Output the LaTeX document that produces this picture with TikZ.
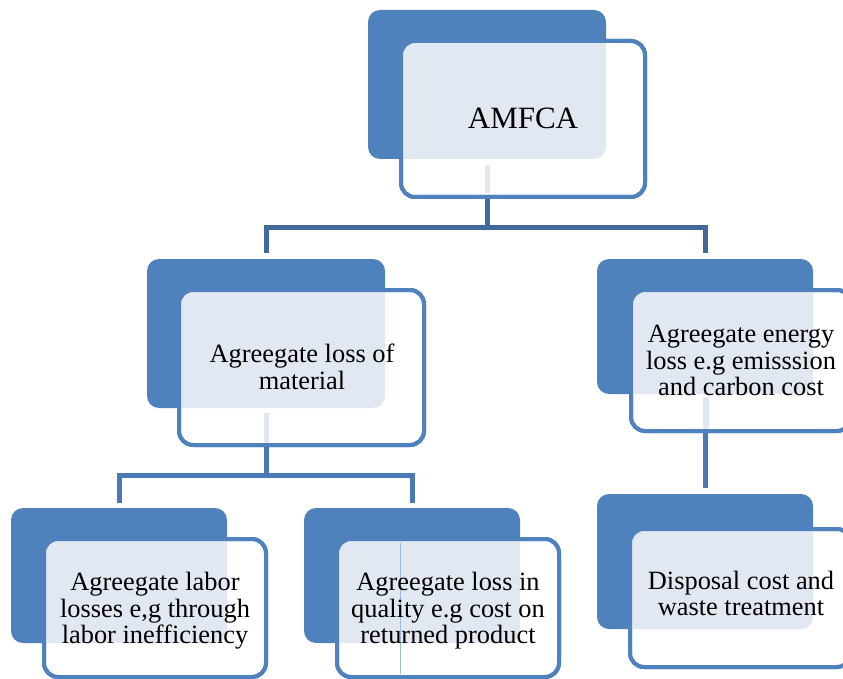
\documentclass[tikz,border=0pt]{standalone}
\usepackage{fontspec}
\setmainfont{Liberation Serif}
\pgfdeclarelayer{background}
\pgfsetlayers{background,main}
\definecolor{boxblue}{HTML}{4F81BD}
\definecolor{topline}{HTML}{41699B}
\definecolor{subline}{HTML}{4A7AB5}
\definecolor{dotfill}{HTML}{E2E8F1}
\tikzset{
  backbox/.style={fill=boxblue, draw=none, rounded corners=12pt, inner sep=0pt, outer sep=0pt},
  frontbox/.style={fill=white, draw=boxblue, line width=4pt, rounded corners=14pt, inner sep=0pt, outer sep=0pt},
  boxtext/.style={align=center, font=\fontsize{26.4}{26.6}\selectfont, inner sep=0pt},
  toptext/.style={align=center, font=\fontsize{31}{32}\selectfont, inner sep=0pt},
  toplink/.style={draw=topline, line width=5pt},
  sublink/.style={draw=subline, line width=5pt},
}
\newcommand\overlapfill[2]{%
  \begin{scope}
    \clip[rounded corners=12pt] (#1.south west) rectangle (#1.north east);
    \fill[dotfill, rounded corners=14pt] (#2.south west) rectangle (#2.north east);
  \end{scope}
  \draw[boxblue, line width=4pt, rounded corners=14pt] (#2.south west) rectangle (#2.north east);
}
\begin{document}
\begin{tikzpicture}[x=1pt, y=-1pt]
\useasboundingbox (0,0) rectangle (843,679);
\clip (0,0) rectangle (843,679);

% AMFCA
\node[backbox, minimum width=238pt, minimum height=149pt] (amfB) at (487,84.5) {};
\node[frontbox, minimum width=244pt, minimum height=156pt] (amfF) at (523,119) {};
\overlapfill{amfB}{amfF}
\fill[dotfill] (484.5,165) rectangle (489.5,193);
\node[toptext] (amfT) at (523,118) {AMFCA};

% Agreegate loss of material
\node[backbox, minimum width=238pt, minimum height=149pt] (matB) at (266,333.5) {};
\node[frontbox, minimum width=245pt, minimum height=155pt] (matF) at (301.5,367.5) {};
\overlapfill{matB}{matF}
\fill[dotfill] (263.5,413) rectangle (268.5,443);
\node[boxtext] (matT) at (302,367) {Agreegate loss of\\material};

% Agreegate energy loss
\node[backbox, minimum width=216pt, minimum height=135pt] (engB) at (705,326.5) {};
\node[frontbox, minimum width=220pt, minimum height=141pt] (engF) at (741,360.5) {};
\overlapfill{engB}{engF}
\fill[dotfill] (703,397) rectangle (708.5,429);
\node[boxtext] (engT) at (741,360.5) {Agreegate energy\\loss e.g emisssion\\and carbon cost};

% Disposal cost
\node[backbox, minimum width=216pt, minimum height=135pt] (disB) at (705,561.5) {};
\node[frontbox, minimum width=221pt, minimum height=138pt] (disF) at (740.5,598) {};
\overlapfill{disB}{disF}
\node[boxtext] (disT) at (741,593.5) {Disposal cost and\\waste treatment};

% Agreegate labor losses
\node[backbox, minimum width=216pt, minimum height=135pt] (labB) at (119,575.5) {};
\node[frontbox, minimum width=222pt, minimum height=138pt] (labF) at (155,608) {};
\overlapfill{labB}{labF}
\node[boxtext] (labT) at (155,611) {Agreegate labor\\losses e,g through\\labor inefficiency};

% Agreegate loss in quality
\node[backbox, minimum width=216pt, minimum height=135pt] (quaB) at (412,575.5) {};
\node[frontbox, minimum width=222pt, minimum height=138pt] (quaF) at (448,608) {};
\overlapfill{quaB}{quaF}
\draw[boxblue!55, line width=0.6pt] (400,543) -- (400,674);
\node[boxtext] (quaT) at (448,611) {Agreegate loss in\\quality e.g cost on\\returned product};

% connectors
\coordinate (busA) at (487,227);
\coordinate (busB) at (266,475);
\begin{pgfonlayer}{background}
\draw[toplink] (amfB.center |- amfF.south) -- (busA) -| ([yshift=6pt]matB.north);
\draw[toplink] (busA) -| ([yshift=6pt]engB.north);
\draw[sublink] (matB.center |- matF.south) -- (busB) -| ([yshift=5pt]labB.north);
\draw[sublink] (busB) -| ([yshift=5pt]quaB.north);
\draw[sublink] (engB.center |- engF.south) -- ([yshift=6pt]disB.north);
\end{pgfonlayer}
\end{tikzpicture}
\end{document}
